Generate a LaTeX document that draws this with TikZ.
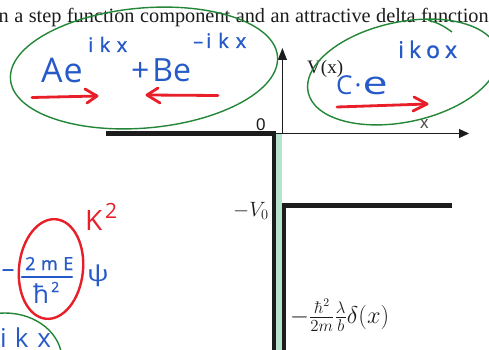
\documentclass[tikz,border=0pt]{standalone}
\usepackage[no-math]{fontspec}
\setmainfont{Liberation Serif}
\newfontfamily\hand{Open Sans}
\newfontfamily\handb{Open Sans}[FakeBold=1.2]
\newfontfamily\axisfont{Liberation Sans}
\usepackage{graphicx}
\usetikzlibrary{arrows.meta}
\definecolor{hblue}{RGB}{38,90,200}
\definecolor{hred}{RGB}{232,30,40}
\definecolor{hgreen}{RGB}{35,135,55}
\definecolor{mint}{RGB}{180,228,205}
\definecolor{ink}{RGB}{28,28,28}
\newcommand\setfs[1]{\fontsize{#1}{#1}\selectfont}
\begin{document}
\begin{tikzpicture}[x=1pt,y=-1pt,
  hw/.style={inner sep=0pt, anchor=base west, text=hblue, font=\hand},
  hws/.style={inner sep=0pt, anchor=base west, text=hblue, font=\handb},
  hr/.style={inner sep=0pt, anchor=base west, text=hred, font=\hand},
  ring/.style={draw=hgreen, line width=1.4pt},
  redring/.style={draw=hred, line width=2.4pt},
  redpen/.style={draw=hred, line width=2.8pt, line cap=round, line join=round},
  bluepen/.style={draw=hblue, line width=2.2pt, line cap=round},
  wall/.style={draw=ink, line width=4.5pt},
  axis/.style={draw=ink, line width=1.2pt},
  lbl/.style={inner sep=0pt, anchor=base west, text=ink}]
\useasboundingbox (0,0) rectangle (489,350);
\clip (0,0) rectangle (489,350);
\fill[white] (0,0) rectangle (489,350);

% title line
\node[lbl] (title) at (-1.5,23) {\setfs{20.3}\hbox to 490pt{n a step function component and an attractive delta function}};

% potential
\fill[mint] (276.4,133) rectangle (281.8,352);
\coordinate (w1) at (106,133.5);
\coordinate (w2) at (274.2,133.5);
\coordinate (w3) at (274.2,352);
\coordinate (w4) at (283.9,352);
\coordinate (w5) at (283.9,205.5);
\coordinate (w6) at (452,205.5);
\draw[wall] (w1) -- (w2) -- (w3);
\draw[wall] (w4) -- (w5) -- (w6);

% axes
\coordinate (xo) at (276,133.5);
\coordinate (xe) at (469,133.5);
\coordinate (yo) at (282.4,134);
\coordinate (ye) at (282.4,48);
\draw[axis,-{Triangle[length=10pt,width=9pt]}] (xo) -- (xe);
\draw[axis,-{Triangle[length=12pt,width=9pt]}] (yo) -- (ye);

% axis labels
\node[lbl, font=\axisfont] (zero) at (256,130) {\setfs{17}0};
\node[lbl, font=\axisfont, text=ink!80] (xl) at (420,128) {\setfs{17}x};
\node[lbl] (vx) at (307,74) {\setfs{19}V(x)};
\node[lbl] (v0) at (233,216) {\setfs{18}\scalebox{1.2}{$-V_0$}};
\node[lbl] (dl) at (290,323) {\setfs{20}\scalebox{1.17}{$-\frac{\hbar^2}{2m}\frac{\lambda}{b}\delta(x)$}};

% green rings
\draw[ring, rotate around={5:(144,68)}] (144,68) ellipse [x radius=134, y radius=60];
\draw[ring, rotate around={12:(403,72)}] (403,72) ellipse [x radius=97, y radius=50];
\coordinate (t1) at (428,20);
\coordinate (t2) at (452,32);
\draw[ring] (t1) to[bend left=10] (t2);
\draw[ring] (5,360) ellipse [x radius=57, y radius=47];

% blue handwriting, top
\node[hw] (Ae) at (41,83) {\setfs{34}A\hspace{1pt}e};
\node[hws] (s1) at (88,52) {\setfs{20}i\hspace{6.5pt}k\hspace{6.5pt}x};
\node[hw] (Be) at (131,82) {\setfs{32}+\hspace{3pt}Be};
\node[hws] (s2) at (193,48) {\setfs{20}–\hspace{3pt}i\hspace{7pt}k\hspace{7pt}x};
\node[hw] (Ce) at (336,95) {\setfs{26}C\hspace{2pt}·\hspace{1pt}\scalebox{1.4}[1]{\setfs{32}e}};
\node[hws] (s3) at (398,58) {\setfs{23}i\hspace{5pt}k\hspace{5pt}o\hspace{5pt}x};

% red arrows
\coordinate (a1s) at (32,97.5);
\coordinate (a1e) at (97,96);
\draw[redpen] (a1s) -- (a1e);
\draw[redpen] (85,89) -- (a1e) -- (87,103);
\coordinate (a2s) at (218,95.5);
\coordinate (a2e) at (147,95);
\draw[redpen] (a2s) -- (a2e);
\draw[redpen] (158,88) -- (a2e) -- (160,103);
\coordinate (a3s) at (337,107);
\coordinate (a3e) at (427,104);
\draw[redpen] (a3s) -- (a3e);
\draw[redpen] (414,97) -- (a3e) -- (413,111);

% bottom-left handwriting
\node[hw] (mn) at (1.5,277) {\setfs{26}–};
\node[hws] (num) at (25,270) {\setfs{18}2\hspace{5.5pt}m\hspace{5.5pt}E};
\coordinate (fb1) at (22,277);
\coordinate (fb2) at (72,277);
\draw[bluepen] (fb1) -- (fb2);
\node[hw] (hb) at (33,303) {\setfs{26}ħ};
\node[hws] (hb2) at (51,292) {\setfs{14}2};
\node[hw, anchor=center] (psi) at (98,276) {\setfs{22}\scalebox{1.3}[1]{ψ}};
\node[hw] (ikx) at (0,347) {\setfs{26}i\hspace{8pt}k\hspace{9pt}x};

\draw[redring, rotate around={-6:(51,269)}] (51,269) ellipse [x radius=32, y radius=50];
\node[hr] (K) at (85,230) {\setfs{28}K};
\node[hr] (K2) at (105,218) {\setfs{21}2};
\end{tikzpicture}
\end{document}
